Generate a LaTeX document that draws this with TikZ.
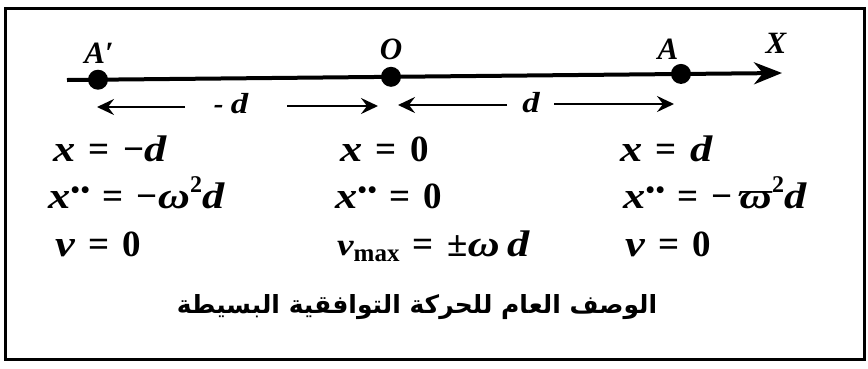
\documentclass[tikz,border=0pt]{standalone}
\usepackage{fontspec}
\usepackage{graphicx}
\setmainfont{Liberation Serif}
\newfontfamily\arabicfont[Script=Arabic]{DejaVu Sans}
\newfontfamily\dvs{DejaVu Sans}
\TeXXeTstate=1
\usetikzlibrary{arrows.meta}
\newcommand{\mv}[1]{\scalebox{1.2}[1]{\bfseries\itshape #1}}
\newcommand{\EQ}{\hspace{0.36em}=\hspace{0.36em}}
\newcommand{\ddt}{\hspace{1pt}\raisebox{16pt}{\dvs\fontsize{9}{9}\selectfont ●\kern2pt●}}
\newcommand{\sqr}{\raisebox{0.42em}{\fontsize{24}{24}\selectfont 2}}
\begin{document}
\begin{tikzpicture}[x=1pt,y=-1pt,
  eq/.style={font=\fontsize{37}{40}\selectfont\bfseries, inner sep=0pt, anchor=base west},
  lbl/.style={font=\fontsize{31}{34}\selectfont\bfseries\itshape, inner sep=0pt, anchor=base},
  dlbl/.style={font=\fontsize{29}{32}\selectfont\bfseries\itshape, inner sep=0pt, anchor=base},
  pt/.style={circle, fill=black, inner sep=0pt, minimum size=20pt},
  axis/.style={line width=4pt, -{Stealth[length=28pt,width=22pt,inset=9pt]}},
  darr/.style={line width=2.5pt, -{Stealth[length=17pt,width=16pt,inset=6pt]}},
  frame/.style={line width=3pt}]
\useasboundingbox (0,0) rectangle (868,368);
\draw[frame] (5,8) rectangle (864,359);
% axis
\coordinate (axL) at (67,80);
\coordinate (axR) at (782,73);
\draw[axis] (axL) -- (axR);
\node[pt] (Ap) at (98,79.7) {};
\node[pt] (O) at (391,76.8) {};
\node[pt] (A) at (681,73.9) {};
\node[lbl] (lAp) at (99,63) {A′};
\node[lbl] (lO) at (391,59) {O};
\node[lbl] (lA) at (668,59) {A};
\node[lbl] (lX) at (776,53) {X};
% distance arrows
\coordinate (d1t) at (185,107);
\coordinate (d1h) at (97,107);
\coordinate (d2t) at (287,106);
\coordinate (d2h) at (378,106);
\coordinate (d3t) at (507,105);
\coordinate (d3h) at (398,105);
\coordinate (d4t) at (554,104);
\coordinate (d4h) at (674,104);
\draw[darr] (d1t) -- (d1h);
\draw[darr] (d2t) -- (d2h);
\draw[darr] (d3t) -- (d3h);
\draw[darr] (d4t) -- (d4h);
\node[dlbl] (lmd) at (231,113) {-\hspace{0.25em}\mv{d}};
\node[dlbl] (ld) at (531,112) {\mv{d}};
% row 1
\node[eq] (r1a) at (53,161) {\mv{x}\EQ−\mv{d}};
\node[eq] (r1b) at (340,161) {\mv{x}\EQ 0};
\node[eq] (r1c) at (620,161) {\mv{x}\EQ\mv{d}};
% row 2
\node[eq] (r2a) at (48,208) {\mv{x}\ddt\EQ−\mv{ω}\sqr\mv{d}};
\node[eq] (r2b) at (335,208) {\mv{x}\ddt\EQ 0};
\node[eq] (r2c) at (623,208) {\mv{x}\ddt\EQ−\hspace{0.15em}\mv{ϖ}\sqr\mv{d}};
% row 3
\node[eq] (r3a) at (55,256) {\mv{v}\EQ 0};
\node[eq] (r3b) at (337,256) {\raisebox{1pt}{\fontsize{31}{31}\selectfont\mv{v}}\raisebox{-5pt}{\fontsize{25}{25}\selectfont max}\EQ±\mv{ω}\hspace{0.2em}\mv{d}};
\node[eq] (r3c) at (625,256) {\mv{v}\EQ 0};
% caption
\node[inner sep=0pt, anchor=base, font=\fontsize{25}{30}\selectfont\bfseries] (cap) at (417,313) {\arabicfont\beginR الوصف العام للحركة التوافقية البسيطة\endR};
\end{tikzpicture}
\end{document}
